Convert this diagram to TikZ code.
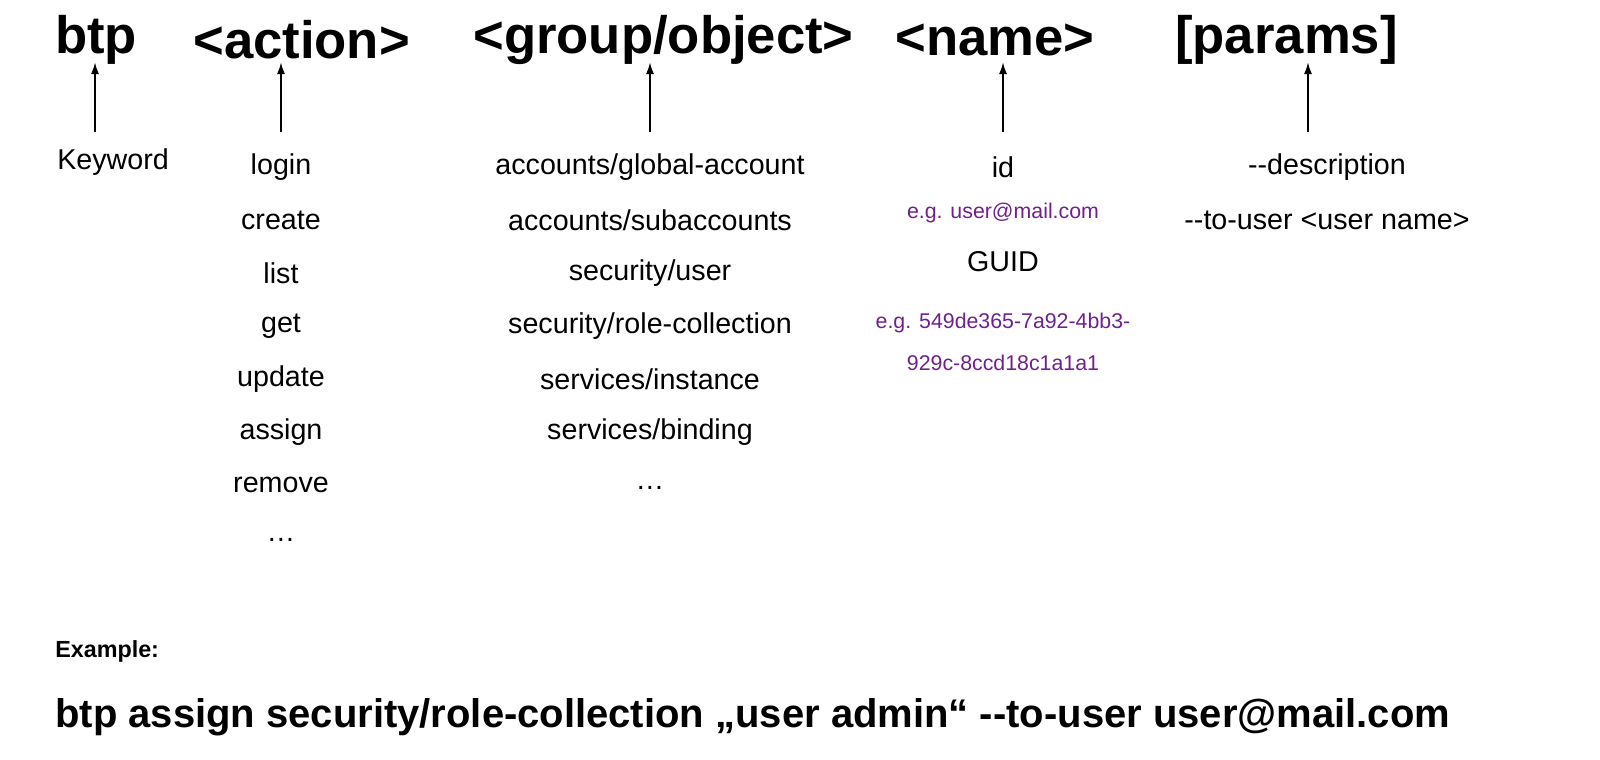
\documentclass[tikz,border=0pt]{standalone}
\usepackage{fontspec}
\usetikzlibrary{arrows.meta}
\setmainfont{Liberation Sans}
\definecolor{purp}{RGB}{112,32,140}
\begin{document}
\begin{tikzpicture}[x=0.75pt,y=-0.75pt,
 hd/.style={anchor=west,font=\fontsize{39.5}{42}\selectfont\bfseries,inner sep=0},
 it/.style={font=\fontsize{21.5}{24}\selectfont,inner sep=0},
 sm/.style={font=\fontsize{16}{18}\selectfont,text=purp,inner sep=0},
 ar/.style={-{Latex[length=9pt,width=6pt]},line width=1.5pt}]
\useasboundingbox (0,0) rectangle (1600,760);
\node[hd] (h1) at (55,40) {btp};
\node[hd] (h2) at (193,40) {<action>};
\node[hd] (h3) at (473,40) {<group/object>};
\node[hd] (h4) at (895,40) {<name>};
\node[hd] (h5) at (1175,40) {[params]};
\coordinate (a1) at (95,132); \coordinate (b1) at (95,62);
\coordinate (a2) at (281,132); \coordinate (b2) at (281,62);
\coordinate (a3) at (650,132); \coordinate (b3) at (650,62);
\coordinate (a4) at (1003,132); \coordinate (b4) at (1003,62);
\coordinate (a5) at (1308,132); \coordinate (b5) at (1308,62);
\foreach \i in {1,...,5} \draw[ar] (a\i) -- (b\i);
\node[it,anchor=west] (kw) at (57,162) {Keyword};
\node[it] (c1) at (281,167) {login};
\node[it] (c2) at (281,220) {create};
\node[it] (c3) at (281,273) {list};
\node[it] (c4) at (281,326) {get};
\node[it] (c5) at (281,379) {update};
\node[it] (c6) at (281,432) {assign};
\node[it] (c7) at (281,485) {remove};
\node[it] (c8) at (281,540) {\dots};
\node[it] (g1) at (650,167) {accounts/global-account};
\node[it] (g2) at (650,220) {accounts/subaccounts};
\node[it] (g3) at (650,273) {security/user};
\node[it] (g4) at (650,326) {security/role-collection};
\node[it] (g5) at (650,379) {services/instance};
\node[it] (g6) at (650,432) {services/binding};
\node[it] (g7) at (650,488) {\dots};
\node[it] (n1) at (1003,167) {id};
\node[sm] (n2) at (1003,213) {e.g. user@mail.com};
\node[it] (n3) at (1003,262) {GUID};
\node[sm] (n4) at (1003,323) {e.g. 549de365-7a92-4bb3-};
\node[sm] (n5) at (1003,363) {929c-8ccd18c1a1a1};
\node[it] (p1) at (1327,167) {-{}-description};
\node[it] (p2) at (1327,220) {-{}-to-user <user name>};
\node[anchor=west,inner sep=0,font=\fontsize{17.5}{20}\selectfont\bfseries] (ex) at (55,651) {Example:};
\node[anchor=west,inner sep=0,font=\fontsize{30}{33}\selectfont\bfseries] (cmd) at (55,717) {btp assign security/role-collection „user admin“ -{}-to-user user@mail.com};
\end{tikzpicture}
\end{document}
